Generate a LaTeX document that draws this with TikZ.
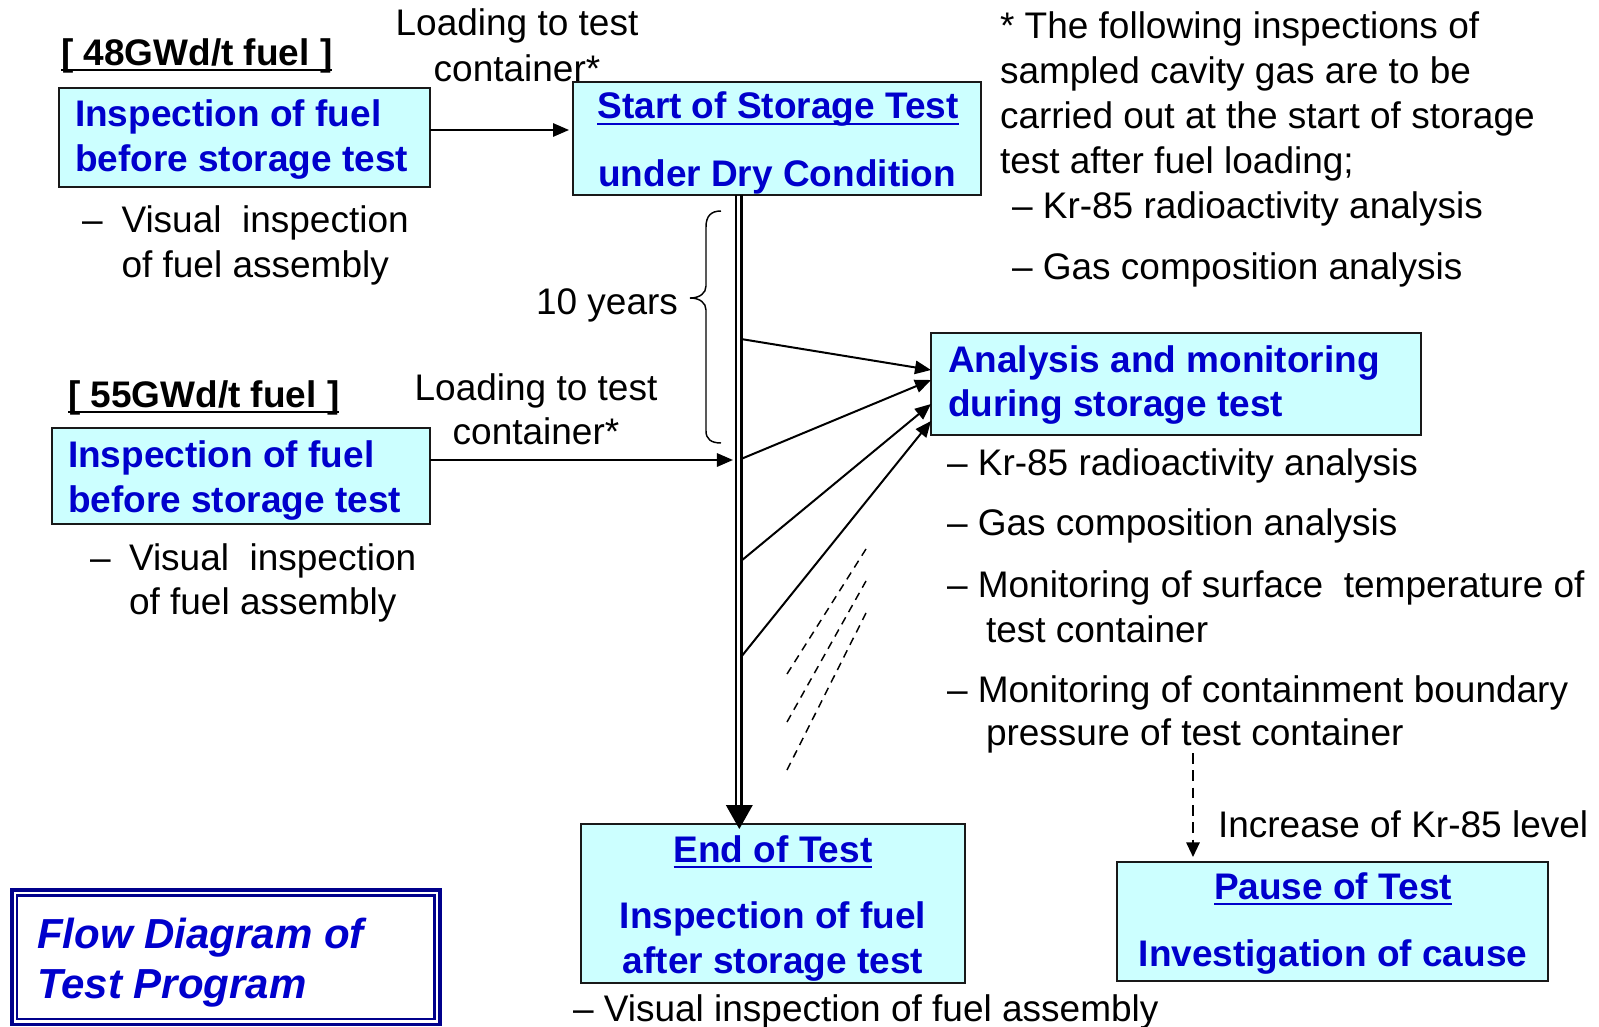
\documentclass[tikz,border=0pt]{standalone}
\usepackage{fontspec}
\setmainfont{Liberation Sans}
\usetikzlibrary{arrows.meta,calc,fit}
\definecolor{boxfill}{HTML}{CCFFFF}
\definecolor{tblue}{HTML}{0000CC}
\definecolor{navyb}{HTML}{00008C}
\newcommand{\fsz}{\fontsize{27.75pt}{33.3pt}\selectfont}
\newcommand{\tsz}{\fontsize{31.5pt}{38pt}\selectfont}
\begin{document}
\begin{tikzpicture}[x=0.75pt,y=-0.75pt,
  txt/.style={inner sep=0pt,outer sep=0pt,font=\fsz},
  btxt/.style={inner sep=0pt,outer sep=0pt,font=\fsz\bfseries,text=tblue},
  ktxt/.style={inner sep=0pt,outer sep=0pt,font=\fsz\bfseries},
  box/.style={draw=black!90,line width=1.5pt,fill=boxfill,inner sep=0pt,outer sep=0pt},
  arr/.style={line width=1.5pt,-{Triangle[length=12pt,width=10pt]}},
  darr/.style={line width=1.5pt,dash pattern=on 8pt off 5pt,-{Triangle[length=11pt,width=10pt]}},
  dline/.style={line width=1.1pt,dash pattern=on 6pt off 4.5pt},
  ulb/.style={tblue,line width=1.5pt},
  ulk/.style={black,line width=1.5pt}]
\useasboundingbox (0,0) rectangle (1599,1027);

% ---------------- boxes ----------------
\node[box,fit={(59,88)(430,187)}] (b1) {};
\node[box,fit={(573,82)(981,195)}] (start) {};
\node[box,fit={(52,428)(430,524)}] (b2) {};
\node[box,fit={(931,333)(1421,435)}] (ana) {};
\node[box,fit={(581,824)(965,983)}] (endb) {};
\node[box,fit={(1117,862)(1548,981)}] (pause) {};
\node[draw=navyb,line width=2.7pt,inner sep=0pt,fit={(12,890)(440,1024.5)}] (title) {};
\node[draw=navyb,line width=2pt,inner sep=0pt,fit={(17,895.5)(434.5,1019)}] (titlein) {};

% ---------------- 48 GWd/t ----------------
\node[ktxt,anchor=base west] (t48) at (61,66) {[ 48GWd/t fuel ]};
\draw[ulk] ($(t48.base west)+(0,4.5)$) -- ($(t48.base east)+(0,4.5)$);
\node[txt,anchor=base] (ld1a) at (517,36) {Loading to test};
\node[txt,anchor=base] (ld1b) at (517,82) {container*};
\node[btxt,anchor=base west] (b1a) at (75,127) {Inspection of fuel};
\node[btxt,anchor=base west] (b1b) at (75,172) {before storage test};
\node[txt,anchor=base west] (v1d) at (82,232) {–};
\node[txt,anchor=base west] (v1a) at (121.5,232) {Visual\ \ inspection};
\node[txt,anchor=base west] (v1b) at (121.5,277) {of fuel assembly};

% ---------------- start box ----------------
\node[btxt,anchor=base] (st1) at (778,119) {Start of Storage Test};
\draw[ulb] ($(st1.base west)+(0,4.8)$) -- ($(st1.base east)+(0,4.8)$);
\node[btxt,anchor=base] (st2) at (777,187) {under Dry Condition};

% ---------------- note ----------------
\node[txt,anchor=base west] (n1) at (1000,39) {* The following inspections of};
\node[txt,anchor=base west] (n2) at (1000,84) {sampled cavity gas are to be};
\node[txt,anchor=base west] (n3) at (1000,129) {carried out at the start of storage};
\node[txt,anchor=base west] (n4) at (1000,174) {test after fuel loading;};
\node[txt,anchor=base west] (n5) at (1012,219) {– Kr-85 radioactivity analysis};
\node[txt,anchor=base west] (n6) at (1012,279) {– Gas composition analysis};

% ---------------- 10 years ----------------
\node[txt,anchor=base east] (yrs) at (678,314) {10 years};
\draw[line width=1.1pt] (721,211) .. controls (711,211) and (706,216) .. (706,227)
  -- (706,286) .. controls (706,293) and (700,298) .. (690,298)
  .. controls (700,298) and (706,303) .. (706,310)
  -- (706,431) .. controls (706,439) and (711,443) .. (721,443);

% ---------------- 55 GWd/t ----------------
\node[ktxt,anchor=base west] (t55) at (68,407) {[ 55GWd/t fuel ]};
\draw[ulk] ($(t55.base west)+(0,4.5)$) -- ($(t55.base east)+(0,4.5)$);
\node[txt,anchor=base] (ld2a) at (536,400) {Loading to test};
\node[txt,anchor=base] (ld2b) at (536,444) {container*};
\node[btxt,anchor=base west] (b2a) at (68,467) {Inspection of fuel};
\node[btxt,anchor=base west] (b2b) at (68,512) {before storage test};
\node[txt,anchor=base west] (v2d) at (90,570) {–};
\node[txt,anchor=base west] (v2a) at (129,570) {Visual\ \ inspection};
\node[txt,anchor=base west] (v2b) at (129,614) {of fuel assembly};

% ---------------- analysis box ----------------
\node[btxt,anchor=base west] (an1) at (948,372) {Analysis and monitoring};
\node[btxt,anchor=base west] (an2) at (948,416) {during storage test};
\node[txt,anchor=base west] (l1) at (947,475) {– Kr-85 radioactivity analysis};
\node[txt,anchor=base west] (l2) at (947,535) {– Gas composition analysis};
\node[txt,anchor=base west] (l3) at (947,597) {– Monitoring of surface\ \ temperature of};
\node[txt,anchor=base west] (l3b) at (986,642) {test container};
\node[txt,anchor=base west] (l4) at (947,702) {– Monitoring of containment boundary};
\node[txt,anchor=base west] (l4b) at (986,745) {pressure of test container};

% ---------------- end / pause ----------------
\node[btxt,anchor=base] (e1) at (773,862) {End of Test};
\draw[ulb] ($(e1.base west)+(0,4.8)$) -- ($(e1.base east)+(0,4.8)$);
\node[btxt,anchor=base] (e2) at (773,928) {Inspection of fuel};
\node[btxt,anchor=base] (e3) at (773,973) {after storage test};
\node[txt,anchor=base west] (e4) at (573,1021) {– Visual inspection of fuel assembly};

\node[txt,anchor=base west] (inc) at (1218,837) {Increase of Kr-85 level};
\node[btxt,anchor=base] (p1) at (1333,899) {Pause of Test};
\draw[ulb] ($(p1.base west)+(0,4.8)$) -- ($(p1.base east)+(0,4.8)$);
\node[btxt,anchor=base] (p2) at (1333,966) {Investigation of cause};

% ---------------- title ----------------
\node[inner sep=0pt,anchor=base west,font=\tsz\bfseries\itshape,text=tblue] (tt1) at (37,948) {Flow Diagram of};
\node[inner sep=0pt,anchor=base west,font=\tsz\bfseries\itshape,text=tblue] (tt2) at (37,998) {Test Program};

% ---------------- connectors ----------------
\coordinate (lL) at (736.3,0);
\coordinate (lR) at (741.5,0);
\coordinate (lx) at (739.3,0);
\draw[line width=1.75pt] (start.south -| lL) -- ($(endb.north -| lL)+(0,-15)$);
\draw[line width=2.25pt] (start.south -| lR) -- ($(endb.north -| lR)+(0,-15)$);
\fill ($(endb.north -| lx)+(-13.5,-19)$) -- ($(endb.north -| lx)+(13.5,-19)$) -- ($(endb.north -| lx)+(0,5)$) -- cycle;

\coordinate (y130) at (0,130);
\draw[arr,shorten >=3pt] (b1.east |- y130) -- (start.west |- y130);
\coordinate (y460) at (0,460);
\draw[arr,shorten >=2.5pt] (b2.east |- y460) -- (lL |- y460);

\coordinate (s1) at (741,339);
\coordinate (s2) at (741,459);
\coordinate (s3) at (741,561);
\coordinate (s4) at (741,657);
\coordinate (q1) at (0,370);
\coordinate (q2) at (0,380);
\coordinate (q3) at (0,404);
\coordinate (q4) at (0,421);
\draw[arr] (s1) -- (ana.west |- q1);
\draw[arr] (s2) -- (ana.west |- q2);
\draw[arr] (s3) -- (ana.west |- q3);
\draw[arr] (s4) -- (ana.west |- q4);

\coordinate (kd) at (1193,753);
\draw[darr,shorten >=3.75pt] (kd) -- (pause.north -| kd);

% ---------------- dashed hints ----------------
\draw[dline] (787,674) -- (866,549);
\draw[dline] (787,722) -- (866,581);
\draw[dline] (787,770) -- (866,613);
\end{tikzpicture}
\end{document}
